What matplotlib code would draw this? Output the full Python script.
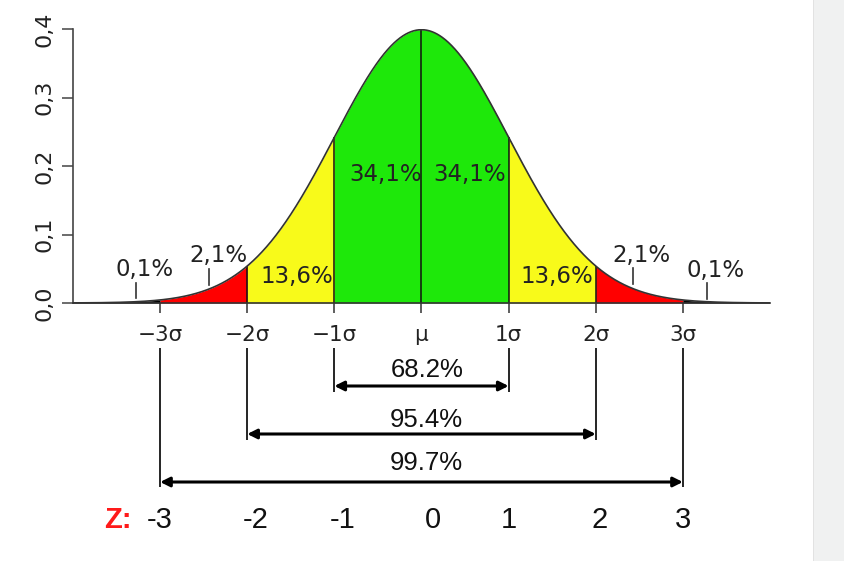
import numpy as np
import matplotlib.pyplot as plt
from matplotlib.patches import Rectangle

# data
sigma_ticks = [-3, -2, -1, 0, 1, 2, 3]
sigma_labels = ['\u22123\u03c3', '\u22122\u03c3', '\u22121\u03c3', '\u03bc', '1\u03c3', '2\u03c3', '3\u03c3']
z_labels = ['-3', '-2', '-1', '0', '1', '2', '3']
y_ticks = [0.0, 0.1, 0.2, 0.3, 0.4]
y_tick_labels = ['0,0', '0,1', '0,2', '0,3', '0,4']

band_edges = [-4, -3, -2, -1, 0, 1, 2, 3, 4]
band_colors = ['#000000', '#ff0000', '#f8fa1a', '#1ee80a',
               '#1ee80a', '#f8fa1a', '#ff0000', '#000000']
band_pct = ['0,1%', '2,1%', '13,6%', '34,1%', '34,1%', '13,6%', '2,1%', '0,1%']

range_k = [1, 2, 3]
range_pct = ['68.2%', '95.4%', '99.7%']

x = np.linspace(-4, 4, 1601)
pdf = np.exp(-x ** 2 / 2) / np.sqrt(2 * np.pi)


def npdf(v):
    return np.exp(-v ** 2 / 2) / np.sqrt(2 * np.pi)


fig = plt.figure(figsize=(8.45, 5.61), dpi=100)
fig.patches.append(Rectangle((813 / 845, 0), 32 / 845, 1, transform=fig.transFigure,
                             facecolor='#f0f1f1', edgecolor='none', zorder=0))
fig.patches.append(Rectangle((813 / 845, 0), 1.5 / 845, 1, transform=fig.transFigure,
                             facecolor='#e2e2e2', edgecolor='none', zorder=0))

# axes: x from -4..4 (px 73..770), y 0..0.4 (px 303..29)
ppy = 0.4 / 274
ybot = -(550 - 303) * ppy
ax = fig.add_axes([73 / 845, 11 / 561, 697 / 845, 521 / 561])
ax.set_xlim(-4, 4)
ax.set_ylim(ybot, 0.4)
ax.patch.set_alpha(0)

# coloured bands
for i in range(len(band_colors)):
    lo, hi = band_edges[i], band_edges[i + 1]
    m = (x >= lo) & (x <= hi)
    ax.fill_between(x[m], 0, pdf[m], color=band_colors[i], linewidth=0, zorder=1)

inner = band_edges[2:-2]
ax.vlines(inner, 0, npdf(np.array(inner)), color='#111111', lw=1.1, zorder=2)
ax.plot(x, pdf, color='#333333', lw=1.2, zorder=3)

# spines / ticks
for s in ['top', 'right']:
    ax.spines[s].set_visible(False)
ax.spines['bottom'].set_position(('data', 0))
ax.spines['left'].set_bounds(0, 0.4)
ax.spines['bottom'].set_color('#333333')
ax.spines['left'].set_color('#444444')
ax.spines['bottom'].set_linewidth(1.2)
ax.spines['left'].set_linewidth(1.2)
ax.spines['bottom'].set_zorder(4)

ax.set_xticks(sigma_ticks)
ax.set_xticklabels(sigma_labels, fontsize=15.5, color='#222222')
ax.tick_params(axis='x', direction='out', length=7.5, width=1.1, color='#333333', pad=8)
ax.set_yticks(y_ticks)
ax.set_yticklabels(y_tick_labels, rotation=90, va='center', fontsize=16, color='#222222')
ax.tick_params(axis='y', direction='out', length=8, width=1.1, color='#444444', pad=5)

# percentage labels above the curve
pct_pos = [(-3.184, 0.049), (-2.328, 0.070), (-1.431, 0.0394), (-0.417, 0.1876),
           (0.557, 0.1876), (1.557, 0.0394), (2.523, 0.070), (3.374, 0.048)]
for lab, (px, py) in zip(band_pct, pct_pos):
    ax.text(px, py, lab, ha='center', va='center', fontsize=16.5, color='#222222', zorder=5)

# little leader ticks for the tail labels
leaders = [(-3.276, 0.0073, 0.0292), (-2.437, 0.0263, 0.0496),
           (2.43, 0.0278, 0.0511), (3.272, 0.0058, 0.0292)]
for lx, y0, y1 in leaders:
    ax.plot([lx, lx], [y0, y1], color='#333333', lw=1.2, zorder=5)

# range brackets below the axis
line_top = -(348 - 303) * ppy
line_ends = [-(392 - 303) * ppy, -(440 - 303) * ppy, -(487 - 303) * ppy]
arrow_y = [-(386 - 303) * ppy, -(434 - 303) * ppy, -(482 - 303) * ppy]
label_y = [-(370 - 303) * ppy, -(420 - 303) * ppy, -(463 - 303) * ppy]
for k, lab, ye, ya, yl in zip(range_k, range_pct, line_ends, arrow_y, label_y):
    ax.vlines([-k, k], ye, line_top, color='black', lw=1.2, clip_on=False)
    ax.annotate('', xy=(-k, ya), xytext=(k, ya), annotation_clip=False,
                arrowprops=dict(arrowstyle='<|-|>', color='black', lw=2.2,
                                mutation_scale=14, shrinkA=0, shrinkB=0))
    ax.text(0.06, yl, lab, ha='center', va='center', fontsize=18.5,
            family='Liberation Sans', color='#111111')

# Z row
z_y = -(520 - 303) * ppy
z_nudge = [0, 0.10, 0.09, 0.13, 0, 0.05, 0]
for zt, zl, dz in zip(sigma_ticks, z_labels, z_nudge):
    ax.text(zt + dz, z_y, zl, ha='center', va='center', fontsize=21,
            family='Liberation Sans', color='#111111')
ax.text(-3.49, z_y, 'Z:', ha='center', va='center', fontsize=21, fontweight='bold',
        family='Liberation Sans', color='#ff1a1a')

fig.savefig('out.png', dpi=100)
